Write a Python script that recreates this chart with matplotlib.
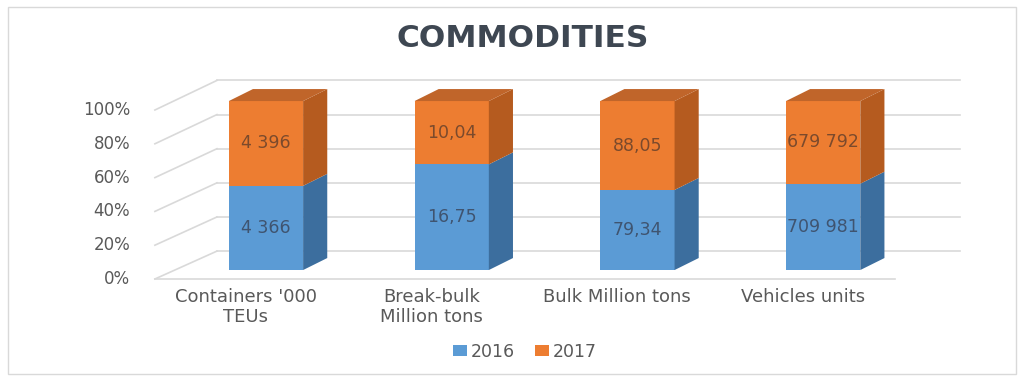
import matplotlib.pyplot as plt
from matplotlib.patches import Polygon, Rectangle

# Commodity throughput, 2016 vs 2017 (100% stacked, pseudo-3D columns)
categories = ["Containers '000\nTEUs", "Break-bulk\nMillion tons",
              "Bulk Million tons", "Vehicles units"]
values_2016 = [4366, 16.75, 79.34, 709981]
values_2017 = [4396, 10.04, 88.05, 679792]
decimals = [0, 2, 2, 0]
series_names = ['2016', '2017']
y_ticks = [0, 20, 40, 60, 80, 100]

BLUE = '#5B9BD5'
BLUE_SIDE = '#3C6E9E'
ORANGE = '#ED7D31'
ORANGE_SIDE = '#B55B1F'
ORANGE_TOP = '#C0652A'
GRID = '#D9D9D9'
TEXT = '#595959'

HALF_W = 0.2      # half width of a column front face
DEPTH_X = 0.13    # column depth, in category units
DEPTH_Y = 7.1     # column depth, in percent units

# walls of the 3D box
WALL_FRONT_X, WALL_BACK_X = -0.598, -0.264
FLOOR_RIGHT_FRONT, WALL_RIGHT_BACK = 3.387, 3.737


def front_edge(p):
    return p - 5.3


def back_wall(p):
    return 11.2 + p * 1.01


def fmt(v, d):
    # European style: space for thousands, comma for decimals
    s = f"{v:,.{d}f}"
    return s.replace(',', ' ').replace('.', ',')


def draw_block(ax, x, y0, y1, front, side, top=None):
    ax.add_patch(Rectangle((x - HALF_W, y0), 2 * HALF_W, y1 - y0,
                           fc=front, ec='none', zorder=3))
    xr = x + HALF_W
    ax.add_patch(Polygon([(xr, y0), (xr + DEPTH_X, y0 + DEPTH_Y),
                          (xr + DEPTH_X, y1 + DEPTH_Y), (xr, y1)],
                         closed=True, fc=side, ec='none', zorder=3))
    if top is not None:
        xl = x - HALF_W
        ax.add_patch(Polygon([(xl, y1), (xl + DEPTH_X, y1 + DEPTH_Y),
                              (xr + DEPTH_X, y1 + DEPTH_Y), (xr, y1)],
                             closed=True, fc=top, ec='none', zorder=3))


fig = plt.figure(figsize=(10.28, 3.76), dpi=100)
ax = fig.add_axes([0, 0, 1, 1])
ax.set_xlim(-1.432, 4.103)
ax.set_ylim(-62.7, 159.8)
ax.axis('off')

# gridlines on back wall and left wall, floor front edge
for p in y_ticks:
    ax.plot([WALL_BACK_X, WALL_RIGHT_BACK], [back_wall(p)] * 2,
            color=GRID, lw=1.2, zorder=1)
    ax.plot([WALL_FRONT_X, WALL_BACK_X], [front_edge(p), back_wall(p)],
            color=GRID, lw=1.2, zorder=1)
    ax.text(-0.732, front_edge(p), f"{p}%", ha='right', va='center',
            fontsize=12, color=TEXT)
ax.plot([WALL_FRONT_X, FLOOR_RIGHT_FRONT], [front_edge(0)] * 2,
        color=GRID, lw=1.2, zorder=1)

for i, (a, b) in enumerate(zip(values_2016, values_2017)):
    share = a / (a + b) * 100
    draw_block(ax, i, 0, share, BLUE, BLUE_SIDE)
    draw_block(ax, i, share, 100, ORANGE, ORANGE_SIDE, ORANGE_TOP)
    ax.text(i, share / 2, fmt(a, decimals[i]), ha='center', va='center',
            fontsize=12.5, color='#3F5470', zorder=4)
    ax.text(i, (share + 100) / 2, fmt(b, decimals[i]), ha='center',
            va='center', fontsize=12.5, color='#7B4A2C', zorder=4)
    ax.text(i - 0.11, -10.6, categories[i], ha='center', va='top',
            fontsize=13, color=TEXT, linespacing=1.15)

handles = [Rectangle((0, 0), 1, 1, fc=BLUE), Rectangle((0, 0), 1, 1, fc=ORANGE)]
fig.legend(handles, series_names, loc='center',
           bbox_to_anchor=(525 / 1028, 1 - 352 / 376), ncol=2, frameon=False,
           handlelength=0.8, handleheight=0.6, handletextpad=0.2,
           columnspacing=1.2, fontsize=12.5, labelcolor=TEXT)

fig.text(0.508, 0.897, 'COMMODITIES', ha='center', va='center',
         fontsize=22.5, fontweight='bold', color='#3E4752')

# chart area border
fig.patches.append(Rectangle((8 / 1028, 2 / 376), 1008 / 1028, 367 / 376,
                             transform=fig.transFigure, fill=False,
                             ec='#D9D9D9', lw=1))

fig.savefig('out.png', dpi=100)
